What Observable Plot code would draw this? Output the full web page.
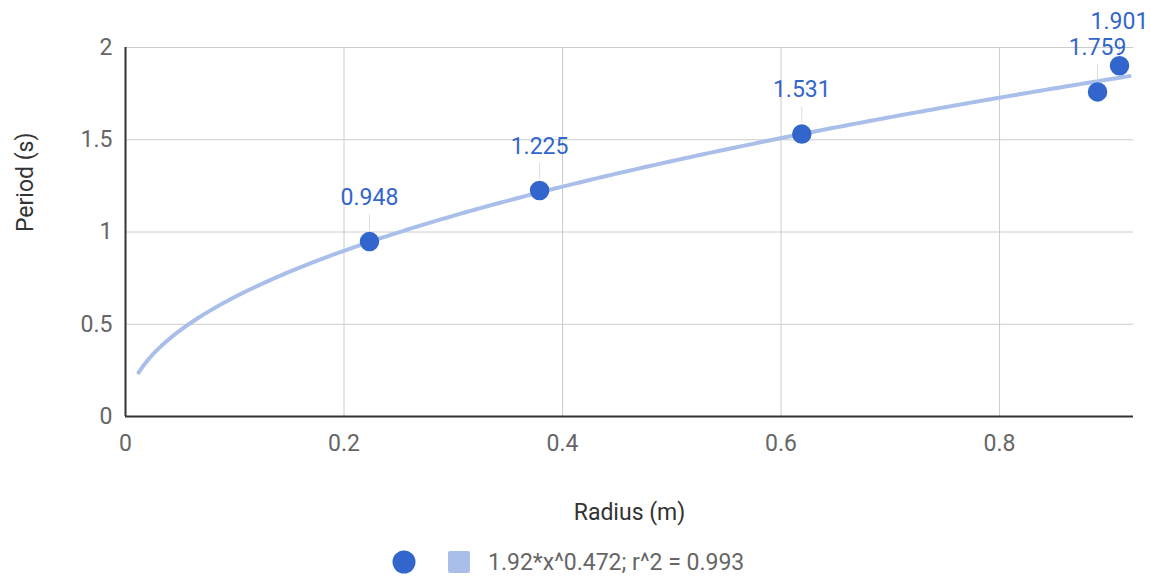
<!DOCTYPE html>
<html>
<head>
<meta charset="utf-8">
<script src="https://cdn.jsdelivr.net/npm/d3@7"></script>
<script src="https://cdn.jsdelivr.net/npm/@observablehq/plot@0.6"></script>
<style>
  body { margin: 0; background: #fff; font-family: Roboto, sans-serif; }
  #legend { height: 34px; display: flex; align-items: center; justify-content: flex-start; padding-left: 392px; color: #666; font-size: 23px; }
</style>
</head>
<body>
<div id="chart"></div>
<div id="legend"></div>
<script>
// Data
const radius = [0.2233, 0.379, 0.619, 0.8897, 0.9098];
const period = [0.948, 1.225, 1.531, 1.759, 1.901];
const periodLabels = ["0.948", "1.225", "1.531", "1.759", "1.901"];
const xTicks = [0, 0.2, 0.4, 0.6, 0.8];
const yTicks = [0, 0.5, 1, 1.5, 2];
// Trendline as stated in the chart's legend: 1.92*x^0.472
const trendCoef = 1.92;
const trendExp = 0.472;
const trendRange = [0.012, 0.919];
const trendLabel = "1.92*x^0.472; r^2 = 0.993";
const xTitle = "Radius (m)";
const yTitle = "Period (s)";

const points = radius.map((r, i) => ({x: r, y: period[i], label: periodLabels[i]}));
const trend = d3.range(0, 201).map(i => {
  const x = trendRange[0] + (trendRange[1] - trendRange[0]) * i / 200;
  return {x, y: trendCoef * Math.pow(x, trendExp)};
});

const H = 545, MT = 47, MB = 129, ML = 125, MR = 18;
const pxPerY = (H - MT - MB) / 2;
const stemStart = 11 / pxPerY, stemEnd = 27 / pxPerY;

const blue = "#3366cc";
const FS = 23;
const chart = Plot.plot({
  width: 1151, height: H,
  marginTop: MT, marginBottom: MB, marginLeft: ML, marginRight: MR,
  x: {domain: [0, 0.9226]},
  y: {domain: [0, 2]},
  style: {fontFamily: "Roboto", fontSize: FS + "px", color: "#666", background: "#fff", overflow: "visible"},
  marks: [
    Plot.gridX(xTicks, {stroke: "#ccc", strokeOpacity: 1}),
    Plot.gridY(yTicks, {stroke: "#ccc", strokeOpacity: 1}),
    Plot.axisX(xTicks, {tickSize: 0, tickPadding: 18, tickFormat: d => String(d), fill: "#666", fontSize: FS, label: null}),
    Plot.axisY(yTicks, {tickSize: 0, tickPadding: 13, tickFormat: d => String(d), fill: "#666", fontSize: FS, label: null}),
    Plot.ruleY([0], {stroke: "#333", strokeWidth: 2}),
    Plot.ruleX([0], {stroke: "#333", strokeWidth: 2}),
    Plot.line(trend, {x: "x", y: "y", stroke: "#a9bfea", strokeWidth: 4, curve: "linear"}),
    Plot.ruleX(points, {x: "x", y1: d => d.y + stemStart, y2: d => d.y + stemEnd, stroke: "#ddd", strokeWidth: 1}),
    Plot.dot(points, {x: "x", y: "y", r: 9, fill: blue, stroke: blue}),
    Plot.text(points, {x: "x", y: "y", text: "label", dy: -44, fill: blue, fontSize: FS, textAnchor: "middle"}),
    Plot.text([xTitle], {frameAnchor: "bottom", dy: 103, fill: "#333", fontSize: FS}),
    Plot.text([yTitle], {frameAnchor: "left", dx: -100, rotate: -90, fill: "#333", fontSize: FS})
  ]
});
document.getElementById("chart").appendChild(chart);

const legend = document.getElementById("legend");
legend.innerHTML = `
  <svg width="24" height="24" style="margin-right:32px"><circle cx="12" cy="12" r="11.5" fill="${blue}"/></svg>
  <svg width="22" height="22" style="margin-right:18px"><rect x="0" y="0" width="22" height="22" rx="2" fill="#a9bfea"/></svg>
  <span>${trendLabel}</span>`;
</script>
</body>
</html>
